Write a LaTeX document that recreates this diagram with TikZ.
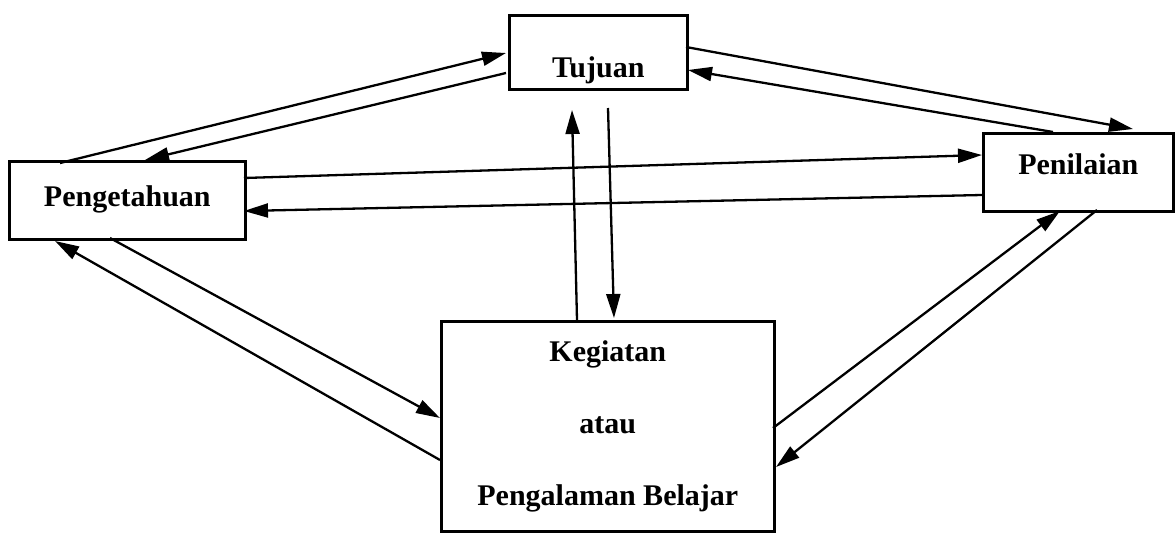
\documentclass[tikz,border=0pt]{standalone}
\usepackage{fontspec}
\setmainfont{Liberation Serif}
\usetikzlibrary{arrows.meta}
\tikzset{
  box/.style={draw, line width=2.6pt, rectangle, inner sep=0pt, anchor=north west,
    font=\fontsize{30}{34}\selectfont\bfseries},
  link/.style={line width=2.3pt, -{Triangle[length=24pt,width=14pt]}}
}
\begin{document}
\begin{tikzpicture}[x=1pt,y=-1pt]
\useasboundingbox (0,0) rectangle (1176,538);
\node[box, minimum width=178pt, text height=62pt, text depth=12pt] (tuj) at (508,14) {Tujuan};
\node[box, minimum width=236pt, text height=45pt, text depth=33pt] (pen) at (8,160) {Pengetahuan};
\node[box, minimum width=190pt, text height=41pt, text depth=37pt] (pnl) at (982,132) {Penilaian};
\node[box, minimum width=333pt, minimum height=210pt, align=center,
  font=\fontsize{30}{72}\selectfont\bfseries] (keg) at (440,320)
  {Kegiatan\\atau\\Pengalaman Belajar};
% Tujuan <-> Pengetahuan
\draw[link] ([shift={(52,3)}]pen.north west) -- ([shift={(-2,39)}]tuj.north west);
\draw[link] ([shift={(-2,59)}]tuj.north west) -- ([shift={(137,0)}]pen.north west);
% Tujuan <-> Penilaian
\draw[link] ([shift={(178,33)}]tuj.north west) -- ([shift={(151,-3)}]pnl.north west);
\draw[link] ([shift={(71,0)}]pnl.north west) -- ([shift={(180,56)}]tuj.north west);
% Pengetahuan <-> Penilaian
\draw[link] ([shift={(236,18)}]pen.north west) -- ([shift={(0,23)}]pnl.north west);
\draw[link] ([shift={(0,63)}]pnl.north west) -- ([shift={(236,51)}]pen.north west);
% Kegiatan <-> Tujuan
\draw[link] ([shift={(137,0)}]keg.north west) -- ([shift={(64,96)}]tuj.north west);
\draw[link] ([shift={(100,94)}]tuj.north west) -- ([shift={(174,-2)}]keg.north west);
% Pengetahuan <-> Kegiatan
\draw[link] ([shift={(102,78)}]pen.north west) -- ([shift={(0,98)}]keg.north west);
\draw[link] ([shift={(0,140)}]keg.north west) -- ([shift={(47,81)}]pen.north west);
% Kegiatan <-> Penilaian
\draw[link] ([shift={(333,108)}]keg.north west) -- ([shift={(78,79)}]pnl.north west);
\draw[link] ([shift={(115,78)}]pnl.north west) -- ([shift={(336,147)}]keg.north west);
\end{tikzpicture}
\end{document}
